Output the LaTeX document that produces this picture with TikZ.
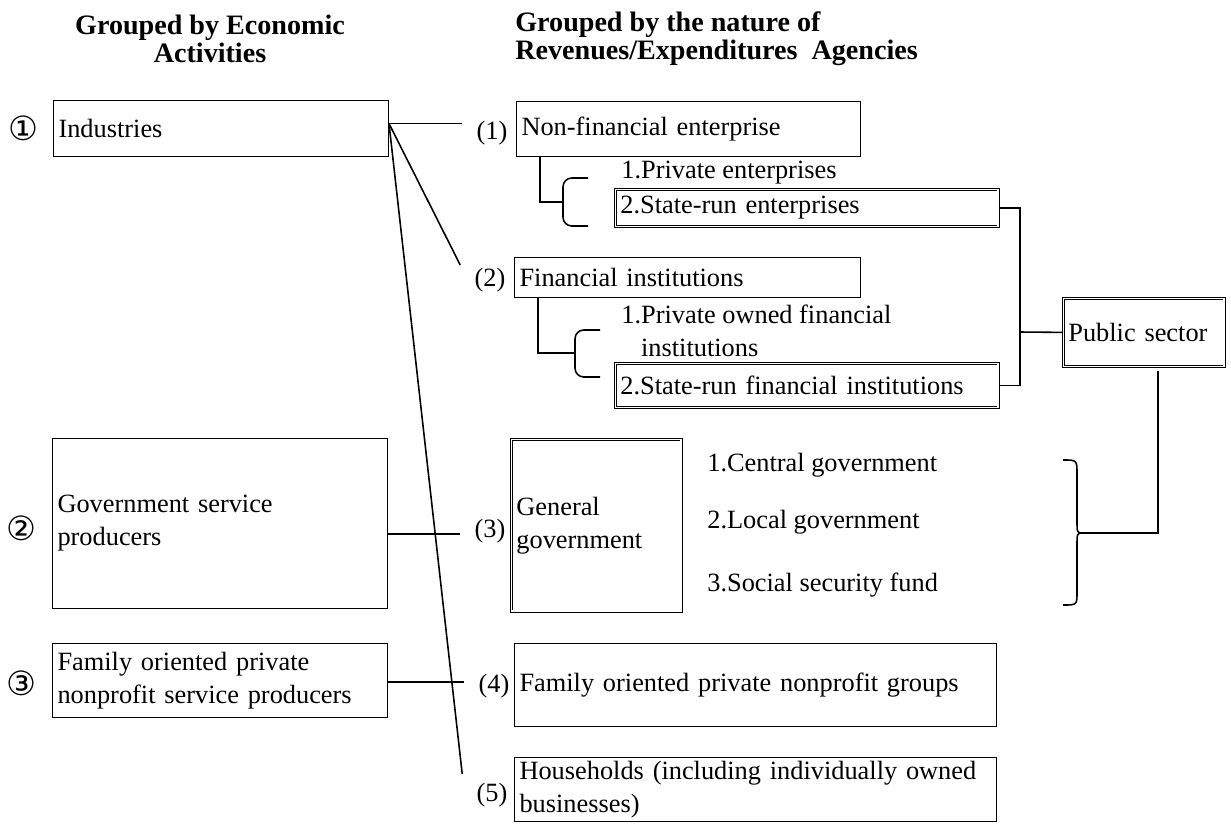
\documentclass[tikz,border=0pt]{standalone}
\usepackage{fontspec}
\setmainfont{Liberation Serif}
\newfontfamily\symfont{DejaVu Sans}
\usetikzlibrary{calc}

\begin{document}
\begin{tikzpicture}[x=0.02cm, y=-0.02cm,
  every node/.style={font=\fontsize{15}{18.8}\selectfont},
  box/.style={draw, line width=0.6pt, anchor=north west, align=left, inner xsep=0.1cm, inner ysep=0pt},
  dbox/.style={box, double, double distance=1pt, line width=0.45pt},
  head/.style={font=\fontsize{16}{16}\selectfont\bfseries},
  item/.style={anchor=west, inner xsep=0pt},
  tag/.style={inner xsep=8pt, inner ysep=1pt},
  circ/.style={font=\fontsize{19}{19}\symfont},
  link/.style={line width=0.9pt}]
\useasboundingbox (0,0) rectangle (1231,829);

% headers
\node[head, align=center] (hdl) at (210,39) {Grouped by Economic\\Activities};
\node[head, align=left, anchor=west, inner xsep=0pt] (hdr) at (515,39) {Grouped by the nature of\\Revenues/Expenditures~~Agencies};

% economic activities
\node[circ] (c1) at (23,128) {①};
\node[box, text width=6.5cm, minimum height=1.12cm] (ind) at (53,100) {Industries};
\node[circ] (c2) at (21,528) {②};
\node[box, text width=6.5cm, minimum height=3.4cm] (gov) at (52,438) {Government service\\producers};
\node[circ] (c3) at (21,683) {③};
\node[box, text width=6.5cm, minimum height=1.48cm] (fam) at (52,643) {Family oriented private\\nonprofit service producers};

% revenue / expenditure agencies
\node[tag] (n1) at (492,133) {(1)};
\node[box, text width=6.68cm, minimum height=1.1cm] (nfe) at (516,101) {Non-financial enterprise};
\node[item] (pe) at (621,173) {1.Private enterprises};
\node[dbox, text width=7.46cm, minimum height=0.74cm] (sre) at (615,189) {2.State-run enterprises};

\node[tag] (n2) at (490,280) {(2)};
\node[box, text width=6.72cm, minimum height=0.8cm] (fin) at (514,257) {Financial institutions};
\node[item, align=left] (pf) at (621,331) {1.Private owned financial\\\hphantom{1.}institutions};
\node[dbox, text width=7.46cm, minimum height=0.88cm] (srf) at (615,363) {2.State-run financial institutions};

\node[dbox, text width=3.02cm, minimum height=1.36cm] (pub) at (1063,298) {Public sector};

\node[tag] (n3) at (490,531) {(3)};
\node[dbox, text width=3.2cm, minimum height=3.44cm] (gg) at (511,439) {General\\government};
\node[item] (cg) at (707,465) {1.Central government};
\node[item] (lg) at (707,522) {2.Local government};
\node[item] (ss) at (707,585) {3.Social security fund};

\node[tag] (n4) at (494,686) {(4)};
\node[box, text width=9.44cm, minimum height=1.66cm] (fop) at (514,643) {Family oriented private nonprofit groups};
\node[tag] (n5) at (492,795) {(5)};
\node[box, text width=9.44cm, minimum height=1.28cm] (hh) at (514,757) {Households (including individually owned\\businesses)};

% connectors
\coordinate (hub) at ([yshift=0.1cm]ind.east);
\draw[link] (hub) -- (hub -| n1.west);
\draw[link] (hub) -- ([yshift=0.3cm]n2.west);
\draw[link] (hub) -- ([yshift=0.42cm]n5.west);
\draw[link] ([yshift=-0.06cm]n3.west -| gov.east) -- ([yshift=-0.06cm]n3.west);
\draw[link] ([yshift=0.08cm]n4.west -| fam.east) -- ([yshift=0.08cm]n4.west);

% brackets under (1) and (2)
\coordinate (br1) at (563,202);
\draw[link] ([xshift=0.48cm]nfe.south west) |- (br1);
\draw[link, rounded corners=5pt] (588,178) -| (563,226) -- (588,226);
\coordinate (br2) at (575,353);
\draw[link] ([xshift=0.48cm]fin.south west) |- (br2);
\draw[link, rounded corners=5pt] (600,330) -| (575,377) -- (600,377);

% public sector
\coordinate (jn) at (1020,332);
\draw[link] (sre.east) -| (jn) |- (srf.east);
\draw[link] (jn) -- (pub.west);
\coordinate (gtip) at (1083,533);
\draw[link] ([xshift=0.28cm,yshift=-0.08cm]pub.south) |- (gtip);
\draw[link] (1063,460) .. controls (1077,460) .. (1077,474) -- (1077,520)
  .. controls (1077,533) .. (gtip) .. controls (1077,533) .. (1077,546)
  -- (1077,592) .. controls (1077,605) .. (1063,605);
\end{tikzpicture}
\end{document}
